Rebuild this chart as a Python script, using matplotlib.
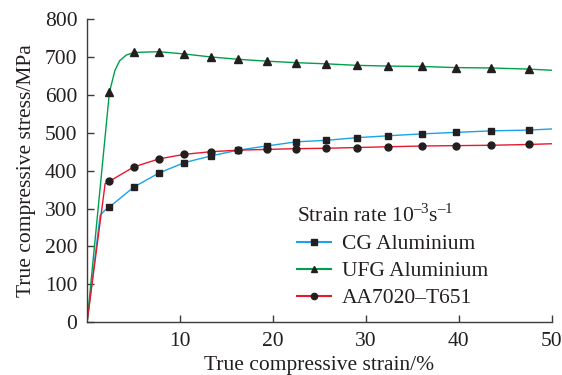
import matplotlib.pyplot as plt

plt.rcParams['font.family'] = ['Liberation Serif', 'DejaVu Serif']
plt.rcParams['mathtext.fontset'] = 'custom'
plt.rcParams['mathtext.rm'] = 'Liberation Serif'

# marker strains (%), shared by all three curves
strain_marks = [2.4, 5.05, 7.75, 10.45, 13.35, 16.25, 19.3, 22.5, 25.7, 29.0, 32.4, 36.0, 39.7, 43.5, 47.5]
cg_marks = [304, 357, 394, 421, 439, 454, 465, 476, 480, 487, 492, 497, 501, 505, 507]
ufg_marks = [607, 712, 714, 708, 700, 694, 689, 685, 682, 678, 676, 675, 672, 671, 668]
aa_marks = [372, 410, 431, 443, 450, 454, 456, 458, 459, 461, 463, 465, 466, 467, 469]

# full curves (elastic lead-in + knee + end point)
cg_x = [0, 1.4, 1.9] + strain_marks + [50]
cg_y = [0, 282, 295] + cg_marks + [510]
ufg_x = [0] + strain_marks[:1] + [3.0, 3.5, 4.2] + strain_marks[1:] + [50]
ufg_y = [0] + ufg_marks[:1] + [665, 690, 705] + ufg_marks[1:] + [665]
aa_x = [0, 1.94] + strain_marks + [50]
aa_y = [0, 366] + aa_marks + [471]

blue = '#1aa3e8'
green = '#00a04a'
red = '#e8182c'
ink = '#231f20'
fs = 15.5

fig = plt.figure(figsize=(5.62, 3.75), dpi=100)
ax = fig.add_axes([0.155, 0.141, 0.827, 0.808])

ax.plot(cg_x, cg_y, color=blue, lw=1.0)
ax.plot(ufg_x, ufg_y, color=green, lw=1.0)
ax.plot(aa_x, aa_y, color=red, lw=1.0)
ax.plot(strain_marks, cg_marks, 's', color=ink, ms=5)
ax.plot(strain_marks, ufg_marks, '^', color=ink, ms=5.5)
ax.plot(strain_marks, aa_marks, 'o', color=ink, ms=5)

# legend proxies
h1, = ax.plot([], [], color=blue, lw=1.5, marker='s', mfc=ink, mec=ink, ms=4.5)
h2, = ax.plot([], [], color=green, lw=1.5, marker='^', mfc=ink, mec=ink, ms=5)
h3, = ax.plot([], [], color=red, lw=1.5, marker='o', mfc=ink, mec=ink, ms=4.5)
leg = ax.legend([h1, h2, h3], ['CG Aluminium', 'UFG Aluminium', 'AA7020\u2013T651'],
                title='Strain rate 10$^{\u2013 3}$s$^{\u2013 1}$', loc='upper left',
                bbox_to_anchor=(0.451, 0.388), frameon=False, fontsize=fs,
                title_fontsize=fs, alignment='left', handlelength=1.6,
                handletextpad=0.5, labelspacing=0.32, borderpad=0, borderaxespad=0)
for t in leg.get_texts():
    t.set_color(ink)
leg.get_title().set_color(ink)

ax.set_xlim(0, 50)
ax.set_ylim(0, 800)
ax.set_xticks([10, 20, 30, 40, 50])
ax.set_yticks(range(0, 801, 100))
ax.tick_params(direction='in', length=5, width=1, color='#3c3c3c', labelsize=fs,
               labelcolor=ink, pad=7)
for s in ['top', 'right']:
    ax.spines[s].set_visible(False)
for s in ['left', 'bottom']:
    ax.spines[s].set_color('#3c3c3c')
    ax.spines[s].set_linewidth(1)

ax.set_xlabel('True compressive strain/%', fontsize=fs, color=ink, labelpad=4)
ax.set_ylabel('True compressive stress/MPa', fontsize=fs, color=ink, labelpad=6)

fig.savefig('out.png', dpi=100)
